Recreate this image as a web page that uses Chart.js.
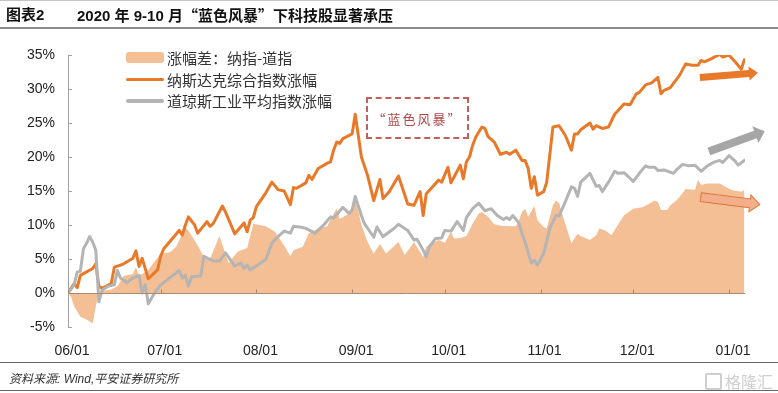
<!DOCTYPE html>
<html>
<head>
<meta charset="utf-8">
<script src="https://cdn.jsdelivr.net/npm/chart.js@4.4.0/dist/chart.umd.min.js"></script>
<style>
html,body{margin:0;padding:0;background:#fff;}
#wrap{position:relative;width:778px;height:393px;overflow:hidden;font-family:"Liberation Sans","Noto Sans CJK SC",sans-serif;}
#c{position:absolute;left:0;top:0;}
.hline{position:absolute;left:0;width:778px;}
.title{position:absolute;top:5px;font-weight:bold;font-size:15px;color:#111;white-space:nowrap;line-height:20px;font-family:"Liberation Sans","Noto Sans CJK SC",sans-serif;}
.cjkq{font-family:"Noto Sans CJK SC",sans-serif;}
#legend{position:absolute;left:126px;top:47px;font-family:"Noto Sans CJK SC",sans-serif;font-size:15px;color:#333;}
#legend .row{display:flex;align-items:center;height:21.5px;white-space:nowrap;}
#legend .sw{display:inline-block;width:38px;margin-right:3px;}
#note{position:absolute;left:366px;top:97px;width:99px;height:38px;border:2px dashed #c0605c;color:#b04848;font-family:"Noto Sans CJK SC",sans-serif;font-size:13px;letter-spacing:2px;display:flex;align-items:center;justify-content:center;}
#src{position:absolute;left:9px;top:369px;font-size:12px;font-style:italic;color:#333;font-family:"Liberation Sans","Noto Sans CJK SC",sans-serif;white-space:nowrap;}
#wm{position:absolute;right:5px;top:369px;font-size:16px;color:#cfcfcf;font-family:"Noto Sans CJK SC",sans-serif;display:flex;align-items:center;}
#wm .box{display:inline-block;width:13px;height:13px;border:2px solid #cfcfcf;border-radius:2px;margin-right:3px;}
</style>
</head>
<body>
<div id="wrap">
  <canvas id="c" width="778" height="393"></canvas>
  <div class="hline" style="top:0;height:1px;background:#c4c4c4;"></div>
  <div class="title" style="left:6px;">图表2</div>
  <div class="title" style="left:77px;">2020 年 9-10 月<span class="cjkq">“</span>蓝色风暴<span class="cjkq">”</span>下科技股显著承压</div>
  <div class="hline" style="top:27px;height:2px;background:#8c8c8c;"></div>
  <div id="legend"></div>
  <div id="note">“蓝色风暴”</div>
  <div class="hline" style="top:362px;height:1px;background:#666;"></div>
  <div id="src">资料来源: Wind,平安证券研究所</div>
  <div id="wm"><span class="box"></span>格隆汇</div>
  <div class="hline" style="top:390px;height:1px;background:#666;"></div>
</div>
<script>
// x values: calendar days since 2020-06-01
const monthTickDays   = [0, 30, 61, 92, 122, 153, 183, 214];
const monthTickLabels = ['06/01','07/01','08/01','09/01','10/01','11/01','12/01','01/01'];
const yTickValues = [-5, 0, 5, 10, 15, 20, 25, 30, 35];

const seriesNames = ['涨幅差：纳指-道指', '纳斯达克综合指数涨幅', '道琼斯工业平均指数涨幅'];

// Nasdaq composite cumulative change (%)
const nasdaqDay = [0,2,3,4,6,8,9,10,11,14,15,17,18,21,22,23,24,26,29,30,31,36,37,38,39,41,42,45,46,47,50,51,54,57,58,59,60,61,64,66,68,70,72,73,74,77,78,79,81,84,85,86,87,88,89,92,93,95,97,99,101,102,104,107,110,112,114,115,116,118,120,121,123,124,127,128,129,130,131,132,134,135,136,138,140,142,143,145,147,148,149,150,151,152,154,155,157,159,161,163,164,165,166,169,170,171,173,175,177,180,182,184,185,187,189,191,192,193,195,198,200,202,204,205,206,208,211,212,214,216,218,219];
const nasdaqPct = [0,1.4,0.8,2.6,3.1,3.6,4.3,1.0,0.7,1.4,3.8,4.1,4.3,5.1,6.2,3.9,5.1,2.1,3.4,5.4,6.5,9.2,8.5,10.0,11.2,10.0,8.8,10.5,9.8,10.2,12.8,11.9,8.7,10.3,9.0,10.7,11.1,12.7,14.7,16.3,15.2,15.0,13.0,15.5,15.4,16.2,17.3,16.7,18.3,19.1,19.3,21.0,22.2,22.0,22.7,23.4,26.3,20.0,17.3,13.6,16.7,13.9,14.9,17.2,13.1,12.9,14.9,11.4,14.6,15.6,16.6,16.3,18.5,16.2,18.8,16.8,19.3,20.0,21.7,22.9,24.4,24.2,23.0,22.2,20.4,20.7,20.4,21.0,19.5,19.5,18.3,15.4,17.1,14.4,14.9,16.3,24.4,24.6,23.2,21.0,23.4,23.4,24.0,25.0,24.1,24.6,24.2,24.4,26.3,27.8,27.7,29.3,29.5,30.6,30.9,31.7,29.3,29.8,30.2,32.0,33.7,33.5,33.5,34.2,34.0,34.4,35.1,34.7,35.0,34.0,32.9,34.3];

// Dow Jones industrial average cumulative change (%)
const dowDay = [0,2,3,4,5,6,7,8,9,10,11,13,15,16,17,19,21,23,24,25,26,28,30,32,36,37,38,39,40,43,44,47,49,51,54,56,57,58,59,61,64,66,68,70,72,73,75,77,80,83,85,86,89,91,92,93,95,96,99,100,102,105,107,110,112,113,115,116,117,119,121,122,124,126,128,129,131,132,133,135,137,139,141,142,143,144,146,147,148,150,151,152,154,156,158,159,161,163,164,165,166,169,171,172,173,174,175,177,178,180,181,183,185,187,188,190,191,193,196,197,199,200,201,203,205,207,209,211,212,214,216,217,219];
const dowPct = [0,1.2,3.1,3.2,6.5,7.3,8.3,7.5,6.3,-1.3,0.4,1.0,1.2,3.3,2.2,1.5,2.2,2.6,0.0,1.2,-1.6,0.0,1.2,1.9,3.3,2.2,2.6,1.0,2.4,2.5,5.4,4.7,4.7,5.9,4.0,4.4,3.6,4.1,3.4,4.0,4.9,7.3,8.3,9.1,8.8,9.8,9.7,9.5,8.8,10.1,11.2,11.0,12.6,11.7,12.2,14.2,11.4,10.2,8.2,9.7,8.3,9.3,10.1,9.2,7.8,7.9,6.3,5.3,6.8,8.0,8.1,9.2,9.1,10.5,9.2,11.1,12.4,12.8,13.2,12.1,12.4,11.4,10.8,11.1,10.8,11.4,10.3,8.7,7.5,4.4,4.8,4.1,5.8,9.5,11.4,11.3,13.4,15.6,15.4,14.2,16.3,17.6,15.7,15.8,14.9,15.6,16.3,17.9,17.6,17.7,17.3,16.4,17.6,18.7,18.5,18.5,18.0,18.1,17.6,18.1,18.9,18.8,18.7,18.8,17.9,18.7,19.2,19.5,19.2,20.2,19.4,18.8,19.5];

// Spread: Nasdaq minus Dow (%)
const spreadDay = [0,1,2,4,6,8,9,10,11,14,16,18,21,22,23,26,30,33,35,38,39,42,44,46,49,52,55,58,60,64,67,70,72,73,76,78,81,84,85,87,88,91,93,95,97,99,101,103,107,109,111,112,115,116,120,122,124,125,127,129,131,133,134,136,138,140,143,145,146,147,148,149,151,152,154,155,157,158,159,161,163,165,166,169,171,172,174,176,178,180,183,186,188,190,191,192,194,195,197,198,200,203,204,205,207,211,213,215,218,219];
const spreadPct = [0,-0.6,-2.0,-3.5,-3.9,-4.5,-2.0,0.0,0.3,0.5,1.0,2.5,2.8,3.8,2.5,3.4,5.8,6.0,6.8,9.6,9.2,7.0,5.3,5.0,8.4,4.4,6.1,6.6,10.2,9.8,9.0,7.0,5.4,6.3,6.8,8.8,9.5,9.8,10.9,12.4,10.9,11.7,13.9,10.0,7.5,5.8,7.2,5.8,7.5,5.6,6.8,7.5,5.3,6.8,7.8,7.4,9.0,8.0,8.1,8.4,10.2,11.7,11.9,11.2,10.1,9.9,9.8,9.8,10.7,11.9,12.4,11.2,12.8,10.7,9.7,9.5,12.9,13.6,13.2,10.2,7.3,8.7,8.4,7.8,8.5,9.5,9.2,8.5,10.0,11.4,12.4,12.6,13.1,13.6,13.4,12.2,12.2,12.9,13.6,14.1,15.3,15.2,16.6,15.9,16.1,16.1,15.6,15.1,14.9,15.2];

// Annotation arrows, in data units [day, pct]
const arrowSpecs = [
  {from:[204.6,31.7], to:[223.4,32.4], body:7, head:14, headLen:9, fill:'#E87928', stroke:null},
  {from:[207.5,20.8], to:[225.6,23.8], body:8, head:18, headLen:10, fill:'#A6A6A6', stroke:null},
  {from:[204.9,14.1], to:[224.0,13.0], body:9, head:17, headLen:10, fill:'#F3AE8C', stroke:'#E3773A'}
];

const colors = {spread:'#F4BF94', nasdaq:'#E87928', dow:'#B4B4B4'};

// legend (HTML)
const lg = document.getElementById('legend');
const swStyles = [
  'height:11px;background:'+colors.spread+';border-radius:3px;',
  'height:3px;background:'+colors.nasdaq+';border-radius:2px;',
  'height:4px;background:'+colors.dow+';border-radius:2px;'
];
seriesNames.forEach((n,i)=>{
  const r=document.createElement('div'); r.className='row';
  r.innerHTML='<span class="sw" style="'+swStyles[i]+'"></span><span>'+n+'</span>';
  lg.appendChild(r);
});

const toXY = (d,v)=>d.map((x,i)=>({x:x,y:v[i]}));

function drawArrow(ctx,x1,y1,x2,y2,spec){
  const ang=Math.atan2(y2-y1,x2-x1), len=Math.hypot(x2-x1,y2-y1);
  ctx.save();
  ctx.translate(x1,y1); ctx.rotate(ang);
  const b=spec.body/2,h=spec.head/2,L=spec.headLen;
  ctx.beginPath();
  ctx.moveTo(0,-b); ctx.lineTo(len-L,-b); ctx.lineTo(len-L,-h); ctx.lineTo(len,0);
  ctx.lineTo(len-L,h); ctx.lineTo(len-L,b); ctx.lineTo(0,b); ctx.closePath();
  ctx.fillStyle=spec.fill; ctx.fill();
  if(spec.stroke){ctx.strokeStyle=spec.stroke;ctx.lineWidth=1;ctx.stroke();}
  ctx.restore();
}

const overlay = {
  id:'overlay',
  afterDatasetsDraw(chart){
    const {ctx, chartArea:a, scales:{x,y}} = chart;
    ctx.save();
    ctx.lineWidth=1;
    ctx.strokeStyle='#a0a0a0';
    yTickValues.forEach(v=>{
      const py=Math.round(y.getPixelForValue(v))+0.5;
      ctx.beginPath(); ctx.moveTo(a.left,py); ctx.lineTo(a.left+4,py); ctx.stroke();
    });
    const zy=Math.round(y.getPixelForValue(0))+0.5;
    ctx.strokeStyle='#a98a72';
    ctx.beginPath(); ctx.moveTo(a.left,zy); ctx.lineTo(a.right,zy); ctx.stroke();
    monthTickDays.forEach(d=>{
      const px=Math.round(x.getPixelForValue(d))+0.5;
      ctx.beginPath(); ctx.moveTo(px,zy); ctx.lineTo(px,zy-4); ctx.stroke();
    });
    arrowSpecs.forEach(s=>{
      drawArrow(ctx, x.getPixelForValue(s.from[0]), y.getPixelForValue(s.from[1]),
                     x.getPixelForValue(s.to[0]),   y.getPixelForValue(s.to[1]), s);
    });
    ctx.restore();
  }
};

new Chart(document.getElementById('c'), {
  type:'line',
  data:{
    datasets:[
      {label:seriesNames[0], data:toXY(spreadDay,spreadPct), fill:'origin', backgroundColor:colors.spread, borderWidth:0, borderColor:'rgba(0,0,0,0)', pointRadius:0, order:3},
      {label:seriesNames[1], data:toXY(nasdaqDay,nasdaqPct), fill:false, borderColor:colors.nasdaq, borderWidth:3, pointRadius:0, borderJoinStyle:'round', borderCapStyle:'round', order:2},
      {label:seriesNames[2], data:toXY(dowDay,dowPct), fill:false, borderColor:colors.dow, borderWidth:3, pointRadius:0, borderJoinStyle:'round', borderCapStyle:'round', order:1}
    ]
  },
  options:{
    responsive:false,
    animation:false,
    events:[],
    layout:{padding:{left:0,top:55,right:33,bottom:0}},
    plugins:{legend:{display:false}, tooltip:{enabled:false}},
    elements:{line:{tension:0}},
    scales:{
      x:{
        type:'linear', min:0, max:219.2,
        afterBuildTicks:s=>{s.ticks=monthTickDays.map(v=>({value:v}));},
        afterFit:s=>{s.height=66;},
        ticks:{autoSkip:false, maxRotation:0, padding:8, labelOffset:4, color:'#222',
               font:{family:'"Liberation Sans", Arial, sans-serif', size:14},
               callback:v=>monthTickLabels[monthTickDays.indexOf(v)]},
        grid:{display:false},
        border:{display:false}
      },
      y:{
        min:-5, max:35,
        afterBuildTicks:s=>{s.ticks=yTickValues.map(v=>({value:v}));},
        afterFit:s=>{s.width=68;},
        ticks:{padding:13, color:'#222', font:{family:'"Liberation Sans", Arial, sans-serif', size:14},
               callback:v=>v+'%'},
        grid:{drawOnChartArea:false, drawTicks:false},
        border:{display:true, color:'#a0a0a0', width:1}
      }
    }
  },
  plugins:[overlay]
});
</script>
</body>
</html>
